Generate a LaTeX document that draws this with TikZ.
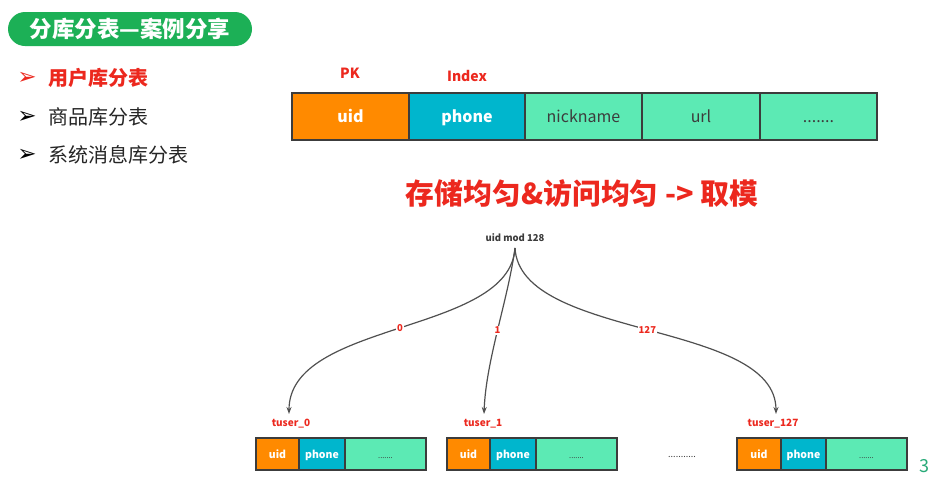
\documentclass[tikz,border=0pt]{standalone}
\usepackage{fontspec}
\setmainfont{Noto Sans CJK SC}
\newfontfamily\symfont{DejaVu Sans}
\usetikzlibrary{arrows.meta}
\definecolor{pillgreen}{RGB}{28,176,86}
\definecolor{tred}{RGB}{236,40,30}
\definecolor{corange}{RGB}{255,138,0}
\definecolor{cteal}{RGB}{0,182,205}
\definecolor{cmint}{RGB}{92,234,180}
\definecolor{cborder}{RGB}{60,60,60}
\definecolor{ctext}{RGB}{60,60,60}
\definecolor{cline}{RGB}{80,80,80}
\definecolor{pgnum}{RGB}{40,170,120}
\tikzset{
  cell/.style={draw=cborder, line width=1.3pt, inner sep=0pt, minimum height=47pt, text height=12pt, text depth=0pt, font=\fontsize{16}{19}\selectfont},
  bcell/.style={draw=cborder, line width=1.1pt, inner sep=0pt, minimum height=32pt, text height=8pt, text depth=0pt, font=\fontsize{10.5}{12}\selectfont},
  keyc/.style={fill=corange, text=white, font=\bfseries\fontsize{16}{19}\selectfont},
  idxc/.style={fill=cteal, text=white, font=\bfseries\fontsize{16}{19}\selectfont},
  restc/.style={fill=cmint, text=ctext},
  bkey/.style={fill=corange, text=white, font=\bfseries\fontsize{10.5}{12}\selectfont},
  bidx/.style={fill=cteal, text=white, font=\bfseries\fontsize{10.5}{12}\selectfont},
  brest/.style={fill=cmint, text=ctext, font=\fontsize{7.5}{9}\selectfont},
  redlab/.style={text=tred, font=\bfseries\fontsize{14}{16}\selectfont, inner sep=0pt},
  tlab/.style={text=tred, font=\bfseries\fontsize{10}{12}\selectfont, inner sep=0pt},
  elab/.style={text=tred, fill=white, font=\bfseries\fontsize{9.5}{11}\selectfont, inner sep=1pt},
  conn/.style={draw=cline, line width=1.2pt, -{Stealth[length=7pt,width=5pt]}},
  bullettxt/.style={anchor=west, inner sep=0pt, font=\fontsize{20}{24}\selectfont},
  bulletarrow/.style={inner sep=0pt, font=\symfont\fontsize{23}{26}\selectfont},
}
\begin{document}
\begin{tikzpicture}[x=1pt,y=-1pt]
\useasboundingbox (0,0) rectangle (930,493);
\fill[white] (0,0) rectangle (930,493);

% title pill
\node[fill=pillgreen, rounded corners=17pt, minimum width=244pt, minimum height=34pt, inner sep=0pt,
      text=white, font=\bfseries\fontsize{22.5}{26}\selectfont] (pill) at (130,29) {分库分表—案例分享};

% bullets
\node[bulletarrow, text=tred] (b1) at (27,78) {➢};
\node[bullettxt, text=tred, font=\bfseries\fontsize{20}{24}\selectfont] (t1) at (48,78) {用户库分表};
\node[bulletarrow, text=black] (b2) at (27,117) {➢};
\node[bullettxt, text=black!85] (t2) at (48,117) {商品库分表};
\node[bulletarrow, text=black] (b3) at (27,155) {➢};
\node[bullettxt, text=black!85] (t3) at (48,155) {系统消息库分表};

% top table
\node[cell, keyc, minimum width=117pt] (uid) at (350.5,116.5) {uid};
\node[cell, idxc, minimum width=116pt] (phone) at (467,116.5) {phone};
\node[cell, restc, minimum width=117pt] (nick) at (583.5,116.5) {nickname};
\node[cell, restc, minimum width=118pt] (url) at (701,116.5) {url};
\node[cell, restc, minimum width=117pt] (more) at (818.5,116.5) {.......};
\node[redlab] (pk) at (350,73) {PK};
\node[redlab] (idx) at (467,76) {Index};

% headline
\node[text=tred, font=\bfseries\fontsize{28.8}{32}\selectfont, inner sep=0pt] (head) at (582,193) {存储均匀\&访问均匀 -> 取模};

% mod node
\node[text=ctext, font=\bfseries\fontsize{9.5}{11}\selectfont, inner sep=1pt] (mod) at (515,238) {uid mod 128};

% bottom tables
\node[bcell, bkey, minimum width=43pt] (u0) at (277.5,454) {uid};
\node[bcell, bidx, minimum width=46pt] (p0) at (322,454) {phone};
\node[bcell, brest, minimum width=81pt] (r0) at (385.5,454) {.......};
\node[tlab] (t0) at (291,424) {tuser\_0};

\node[bcell, bkey, minimum width=43pt] (u1) at (468.5,454) {uid};
\node[bcell, bidx, minimum width=46pt] (p1) at (513,454) {phone};
\node[bcell, brest, minimum width=81pt] (r1) at (576.5,454) {.......};
\node[tlab] (tt1) at (483,424) {tuser\_1};

\node[bcell, bkey, minimum width=44pt] (u2) at (759,454) {uid};
\node[bcell, bidx, minimum width=45pt] (p2) at (803.5,454) {phone};
\node[bcell, brest, minimum width=81pt] (r2) at (866.5,454) {.......};
\node[tlab] (t127) at (773,424) {tuser\_127};

\node[text=ctext, font=\fontsize{9}{11}\selectfont, inner sep=0pt] (gap) at (682,457) {...........};

% connectors
\coordinate (src) at (515,248);
\coordinate (e0) at (289,414);
\coordinate (e1) at (484,414);
\coordinate (e2) at (776,414);
\draw[conn] (src) .. controls (510,335) and (289,320) .. (e0) node[elab, pos=0.5] {0};
\draw[conn] (src) .. controls (508,300) and (486,360) .. (e1) node[elab, pos=0.5] {1};
\draw[conn] (src) .. controls (520,340) and (776,320) .. (e2) node[elab, pos=0.5] {127};

% page number
\node[text=pgnum, font=\fontsize{18}{22}\selectfont, anchor=east, inner sep=0pt] (pg) at (929.5,466) {3};
\end{tikzpicture}
\end{document}
